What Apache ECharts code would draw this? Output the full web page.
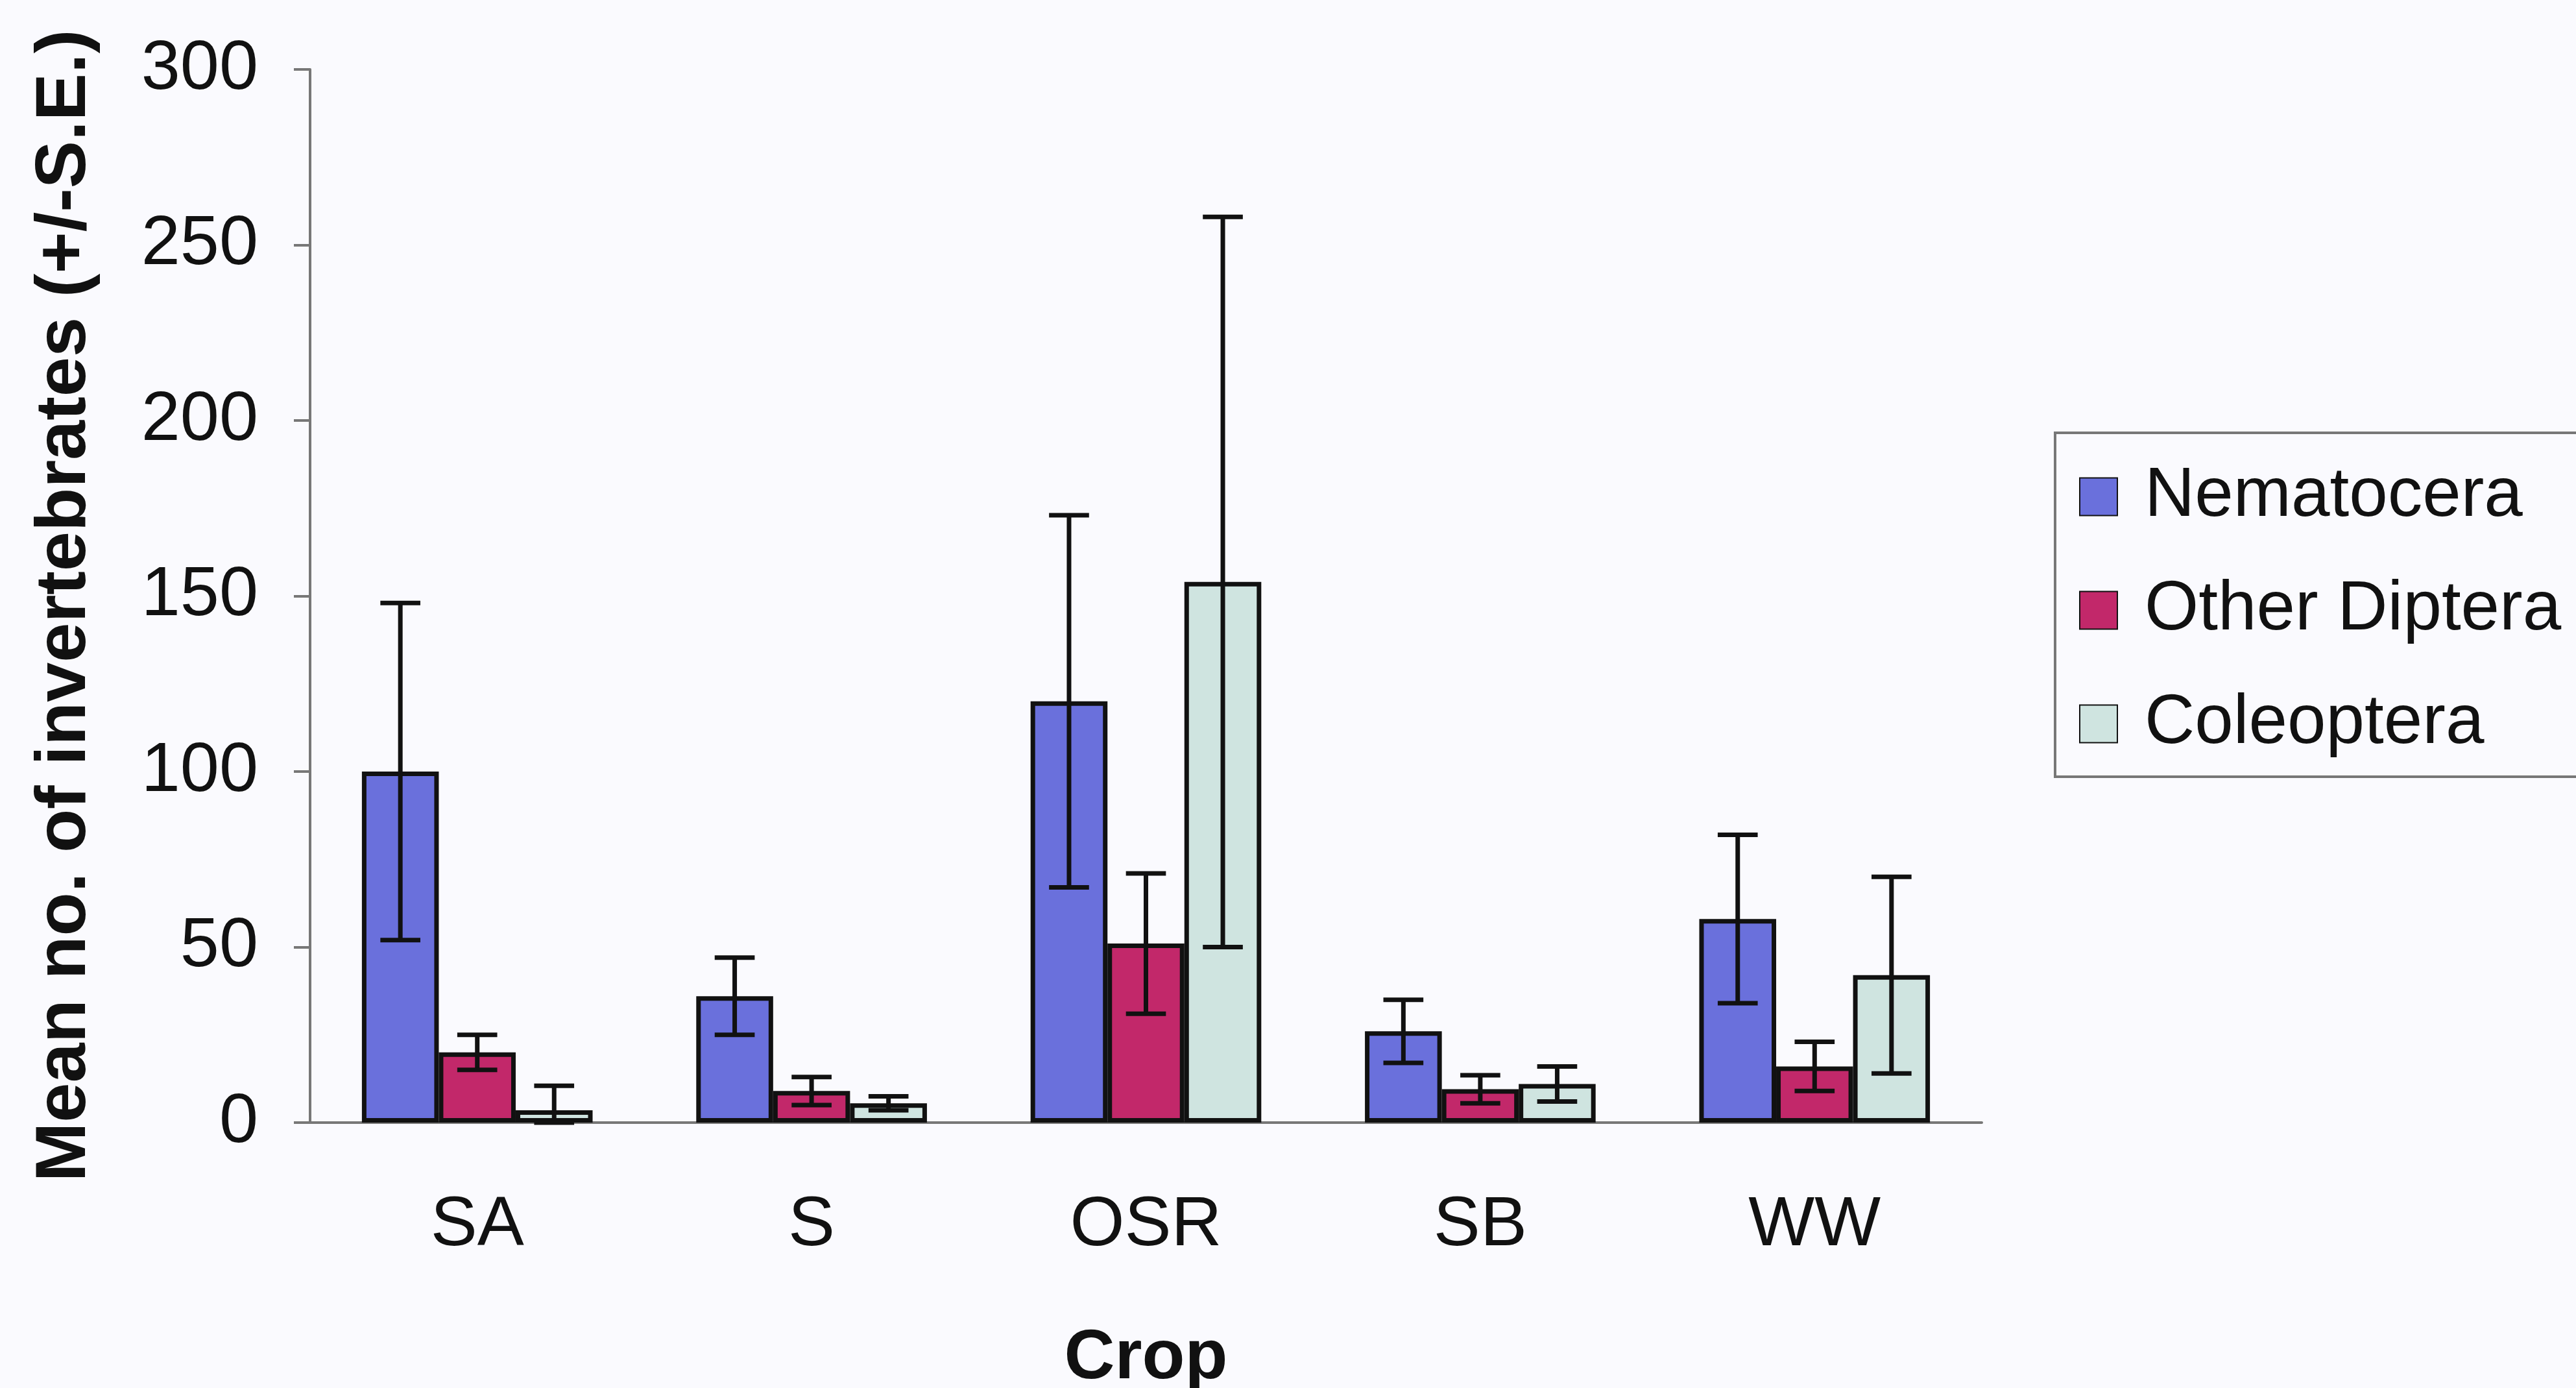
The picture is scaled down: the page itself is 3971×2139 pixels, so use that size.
<!DOCTYPE html>
<html>
<head>
<meta charset="utf-8">
<title>Mean no. of invertebrates by crop</title>
<script src="https://cdn.jsdelivr.net/npm/echarts@6/dist/echarts.min.js"></script>
<style>
    html, body { margin: 0; padding: 0; background: #fafafe; }
    #chart { width: 3971px; height: 2139px; }
</style>
</head>
<body>
<div id="chart"></div>
<script>

var crops = ['SA', 'S', 'OSR', 'SB', 'WW'];
var seriesNames = ['Nematocera', 'Other Diptera', 'Coleoptera'];

// means and standard errors
var nematocera = [100, 36, 120, 26, 58];
var nematoceraSE = [48, 11, 53, 9, 24];
var otherDiptera = [20, 9, 51, 9.5, 16];
var otherDipteraSE = [5, 4, 20, 4, 7];
var coleoptera = [3.5, 5.5, 154, 11, 42];
var coleopteraSE = [7, 2, 104, 5, 28];

var yMin = 0;
var yMax = 300;
var yStep = 50;

var colors = ['#6a70dc', '#c2286a', '#cfe4e0'];
var catGap = 0.31;
var fontName = 'Liberation Sans, Arial, sans-serif';

function barSeries(i, values) {
    return {
        name: seriesNames[i],
        type: 'bar',
        data: values,
        barGap: '0%',
        barCategoryGap: (catGap * 100) + '%',
        itemStyle: {
            color: colors[i],
            borderColor: '#111',
            borderWidth: 7
        },
        z: 2
    };
}

function errorSeries(i, values, errs) {
    var data = values.map(function (v, k) {
        return [k, v - errs[k], v + errs[k]];
    });
    return {
        name: 'se' + i,
        type: 'custom',
        data: data,
        z: 3,
        renderItem: function (params, api) {
            var cat = api.value(0);
            var lo = api.coord([cat, Math.max(0, api.value(1))]);
            var hi = api.coord([cat, api.value(2)]);
            var bandW = api.size([1, 0])[0];
            var barW = bandW * (1 - catGap) / 3;
            var x = lo[0] + (i - 1) * barW;
            var half = barW * 0.26;
            var st = { stroke: '#111', lineWidth: 7 };
            return {
                type: 'group',
                children: [
                    { type: 'line', shape: { x1: x, y1: hi[1], x2: x, y2: lo[1] }, style: st },
                    { type: 'line', shape: { x1: x - half, y1: hi[1], x2: x + half, y2: hi[1] }, style: st },
                    { type: 'line', shape: { x1: x - half, y1: lo[1], x2: x + half, y2: lo[1] }, style: st }
                ]
            };
        }
    };
}

var chart = echarts.init(document.getElementById('chart'));

var option = {
    animation: false,
    backgroundColor: '#fafafe',
    textStyle: { fontFamily: fontName },
    grid: { left: 478, right: 916, top: 107, bottom: 409, outerBoundsMode: 'none' },
    legend: {
        data: seriesNames,
        orient: 'vertical',
        left: 3168,
        top: 667,
        icon: 'rect',
        itemWidth: 58,
        itemHeight: 58,
        itemGap: 60,
        padding: [41, 40, 24, 37],
        borderColor: '#777',
        borderWidth: 4,
        textStyle: {
            fontSize: 107,
            color: '#111',
            lineHeight: 115,
            padding: [0, 0, 0, 37]
        }
    },
    xAxis: {
        type: 'category',
        data: crops,
        name: 'Crop',
        nameLocation: 'middle',
        nameGap: 310,
        nameTextStyle: { fontSize: 108, fontWeight: 'bold', color: '#111' },
        axisLine: { lineStyle: { color: '#777', width: 4 } },
        axisTick: { length: 35, lineStyle: { color: '#777', width: 4 } },
        axisLabel: { fontSize: 108, color: '#111', margin: 105 }
    },
    yAxis: {
        type: 'value',
        min: yMin,
        max: yMax,
        interval: yStep,
        name: 'Mean no. of invertebrates (+/-S.E.)',
        nameLocation: 'middle',
        nameGap: 322,
        nameTextStyle: { fontSize: 110, fontWeight: 'bold', color: '#111', padding: [0, 30, 0, 0] },
        splitLine: { show: false },
        axisLine: { show: true, lineStyle: { color: '#777', width: 4 } },
        axisTick: { show: true, length: 25, lineStyle: { color: '#777', width: 4 } },
        axisLabel: { fontSize: 108, color: '#111', margin: 80 }
    },
    series: [
        barSeries(0, nematocera),
        barSeries(1, otherDiptera),
        barSeries(2, coleoptera),
        errorSeries(0, nematocera, nematoceraSE),
        errorSeries(1, otherDiptera, otherDipteraSE),
        errorSeries(2, coleoptera, coleopteraSE)
    ]
};

chart.setOption(option);

</script>
</body>
</html>
